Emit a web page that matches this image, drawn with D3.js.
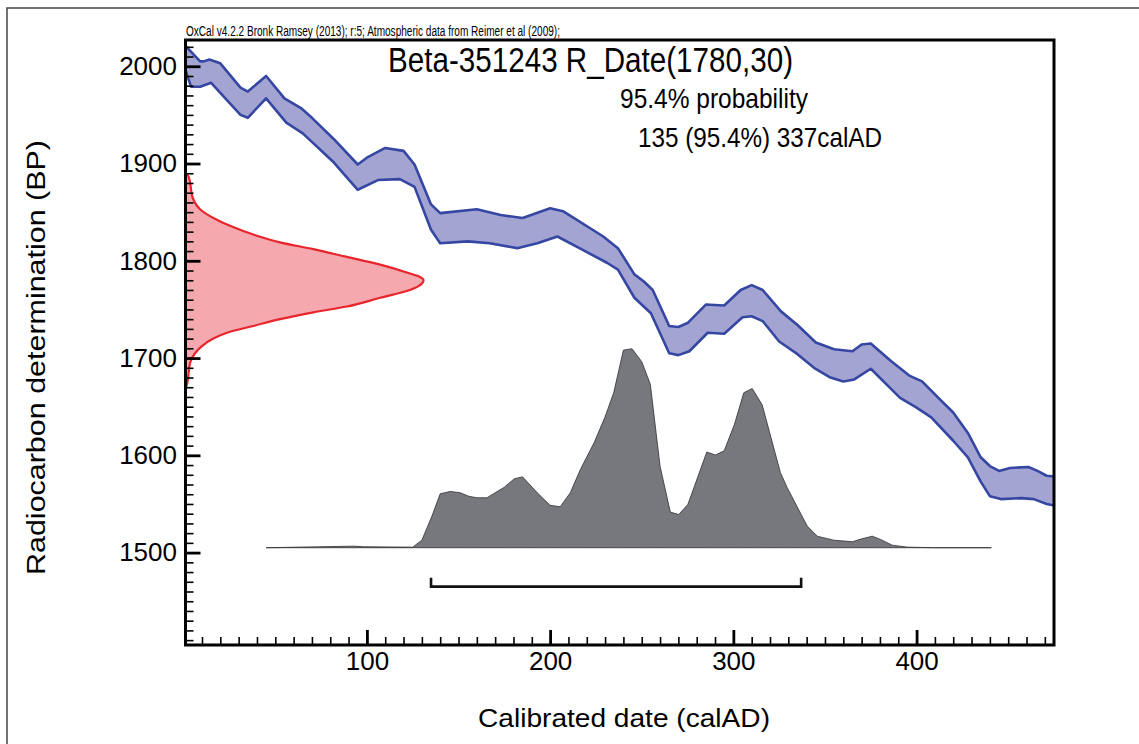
<!DOCTYPE html>
<html>
<head>
<meta charset="utf-8">
<script src="https://cdn.jsdelivr.net/npm/d3@7"></script>
<style>
  body { margin: 0; background: #fff; }
  svg { display: block; font-family: "Liberation Sans", Arial, sans-serif; }
</style>
</head>
<body>
<svg width="1139" height="744"></svg>
<script>

// calibration curve (IntCal band), upper and lower edges
const curveTopYear = [1, 9, 11, 14, 20, 31, 35, 45, 55, 64, 70, 82, 95, 100, 110, 120, 126, 135, 140, 160, 173, 185, 200, 207,
  229, 237, 246, 251, 256, 265, 270, 275, 285, 295, 304, 310, 316, 326, 335, 345, 355, 365, 370, 375, 386, 396, 403, 413,
  420, 428, 435, 440, 445, 451, 461, 466, 471, 476];
const curveTopBP = [2021, 2005, 2005, 2007, 2003, 1978, 1974, 1990, 1967, 1957, 1947, 1925, 1899, 1906, 1916, 1913, 1899, 1858, 1849, 1853, 1847, 1844, 1854, 1851,
  1825, 1813, 1786, 1779, 1770, 1733, 1732, 1736, 1755, 1754, 1770, 1775, 1770, 1748, 1734, 1716, 1709, 1707, 1714, 1715, 1697, 1682, 1676, 1657,
  1644, 1623, 1598, 1589, 1584, 1587, 1588, 1584, 1579, 1578];
const curveBottomYear = [1, 4, 9, 15, 31, 35, 45, 56, 65, 82, 95, 106, 118, 126, 135, 140, 155, 167, 182, 193, 204, 217, 231, 237,
  246, 255, 265, 270, 276, 286, 295, 305, 310, 316, 325, 335, 344, 353, 360, 366, 375, 391, 400, 408, 420, 428, 435, 440,
  446, 457, 464, 471, 476];
const curveBottomBP = [1996, 1979, 1979, 1983, 1950, 1947, 1967, 1942, 1931, 1901, 1873, 1883, 1884, 1876, 1832, 1818, 1820, 1818, 1813, 1818, 1825, 1812, 1798, 1791,
  1762, 1746, 1705, 1703, 1707, 1726, 1725, 1742, 1743, 1738, 1717, 1704, 1690, 1680, 1676, 1678, 1689, 1659, 1649, 1639, 1615, 1598, 1573, 1558,
  1555, 1556, 1555, 1550, 1548];

// radiocarbon measurement R_Date(1780,30), relative probability
const rDateBP = [1890, 1887, 1863, 1853, 1844, 1836, 1827, 1819, 1812, 1804, 1796, 1788, 1784, 1780,
  1774, 1769, 1762, 1753, 1747, 1740, 1733, 1727, 1720, 1712, 1705, 1695, 1675, 1668];
const rDateProb = [0, 0.012, 0.033, 0.061, 0.117, 0.187, 0.285, 0.397, 0.537, 0.678, 0.818, 0.930, 0.979, 1.0,
  0.979, 0.930, 0.818, 0.678, 0.537, 0.397, 0.285, 0.187, 0.117, 0.068, 0.040, 0.019, 0.008, 0];

// calibrated date distribution, relative probability
const calYear = [45, 93, 98, 125, 130, 135.5, 140, 145.5, 151, 155.5, 160, 165.5, 175, 180.5, 185, 193, 200, 205.5, 211, 216.5,
  224, 230, 234.7, 240, 244.7, 250, 254.7, 260, 265.6, 270.2, 275.2, 285.5, 290.2, 295, 300.6, 305.7, 310.3, 315.7, 325.7,
  329.4, 340.3, 345.8, 354.8, 365, 369.7, 375.8, 380.3, 386.7, 395, 409.4, 440.8];
const calProb = [0, 0.008, 0.005, 0.003, 0.038, 0.159, 0.271, 0.283, 0.276, 0.259, 0.251, 0.251, 0.304, 0.347, 0.356, 0.276, 0.213, 0.206, 0.276, 0.393,
  0.528, 0.658, 0.779, 0.993, 1.0, 0.935, 0.821, 0.410, 0.179, 0.167, 0.218, 0.481, 0.466, 0.487, 0.620, 0.779, 0.800, 0.719, 0.377,
  0.302, 0.109, 0.058, 0.038, 0.030, 0.044, 0.058, 0.042, 0.013, 0.003, 0, 0];

// 95.4% range
const rangeFrom = 135;
const rangeTo = 337;

const xMajorTicks = [100, 200, 300, 400];
const yMajorTicks = [1500, 1600, 1700, 1800, 1900, 2000];

const svg = d3.select('svg');

// outer border (top and left visible)
svg.append('path')
   .attr('d', 'M7,744 V8 H1139')
   .attr('fill', 'none')
   .attr('stroke', '#444')
   .attr('stroke-width', 1.5);

let xScale = d3.scaleLinear()
               .domain([1, 475])
               .range([185.5, 1054]);

let yScale = d3.scaleLinear()
               .domain([1405, 2027])
               .range([645, 40]);

let redScale = d3.scaleLinear()
                 .domain([0, 1])
                 .range([xScale(1), xScale(1) + 238]);

let grayScale = d3.scaleLinear()
                  .domain([0, 1])
                  .range([yScale(1505), yScale(1505) - 199]);

svg.append('clipPath')
   .attr('id', 'plotClip')
   .append('rect')
   .attr('x', 185.5)
   .attr('y', 40)
   .attr('width', 1054 - 185.5)
   .attr('height', 605);

let plot = svg.append('g').attr('clip-path', 'url(#plotClip)');

// calibration band
let bandPoints = curveTopYear.map((d, i) => [d, curveTopBP[i]])
  .concat(curveBottomYear.map((d, i) => [d, curveBottomBP[i]]).reverse());

let bandLine = d3.line()
                 .x(d => xScale(d[0]))
                 .y(d => yScale(d[1]));

plot.append('path')
    .attr('d', bandLine(bandPoints) + 'Z')
    .attr('fill', '#a3a4d2')
    .attr('stroke', '#3547a2')
    .attr('stroke-width', 2.6)
    .attr('stroke-linejoin', 'round');

// radiocarbon date on the y axis
let redArea = d3.area()
                .y(d => yScale(d[0]))
                .x0(redScale(0))
                .x1(d => redScale(d[1]))
                .curve(d3.curveMonotoneY);

plot.append('path')
    .attr('d', redArea(rDateBP.map((d, i) => [d, rDateProb[i]])))
    .attr('fill', '#f5a8ad')
    .attr('stroke', '#e8252c')
    .attr('stroke-width', 2.2);

// calibrated distribution
let grayArea = d3.area()
                 .x(d => xScale(d[0]))
                 .y0(grayScale(0))
                 .y1(d => grayScale(d[1]));

plot.append('path')
    .attr('d', grayArea(calYear.map((d, i) => [d, calProb[i]])))
    .attr('fill', '#77787d')
    .attr('stroke', '#2e2e30')
    .attr('stroke-width', 0.8)
    .attr('stroke-linejoin', 'round');

// range bar
let barY = yScale(1465);
svg.append('path')
   .attr('d', 'M' + xScale(rangeFrom) + ',' + (barY - 9) +
              'V' + barY + 'H' + xScale(rangeTo) + 'V' + (barY - 9))
   .attr('fill', 'none')
   .attr('stroke', '#111')
   .attr('stroke-width', 2.6);

// axes
let xMinor = d3.axisBottom(xScale)
               .tickValues(d3.range(10, 475, 10))
               .tickSize(-8)
               .tickFormat('');

let xMajor = d3.axisBottom(xScale)
               .tickValues(xMajorTicks)
               .tickSize(-15)
               .tickPadding(7)
               .tickFormat(d3.format('d'));

let yMinor = d3.axisLeft(yScale)
               .tickValues(d3.range(1410, 2030, 10))
               .tickSize(-8)
               .tickFormat('');

let yMajor = d3.axisLeft(yScale)
               .tickValues(yMajorTicks)
               .tickSize(-15)
               .tickPadding(8.5)
               .tickFormat(d3.format('d'));

function drawAxis(axis, transform, width) {
  let g = svg.append('g')
             .attr('transform', transform)
             .call(axis);
  g.select('.domain').remove();
  g.selectAll('line')
   .attr('stroke', '#000')
   .attr('stroke-width', width);
  g.selectAll('text')
   .attr('fill', '#000')
   .style('font-size', '26px')
   .style('font-family', '"Liberation Sans", Arial, sans-serif');
  return g;
}

drawAxis(xMinor, 'translate(0,645)', 1.6);
drawAxis(xMajor, 'translate(0,645)', 2.8);
drawAxis(yMinor, 'translate(185.5,0)', 1.6);
drawAxis(yMajor, 'translate(185.5,0)', 2.8);

svg.append('rect')
   .attr('x', 185.5)
   .attr('y', 40)
   .attr('width', 1054 - 185.5)
   .attr('height', 605)
   .attr('fill', 'none')
   .attr('stroke', '#000')
   .attr('stroke-width', 3);

// texts
svg.append('text')
   .attr('x', 186)
   .attr('y', 36)
   .attr('textLength', 374)
   .attr('lengthAdjust', 'spacingAndGlyphs')
   .style('font-size', '15.5px')
   .text('OxCal v4.2.2 Bronk Ramsey (2013); r:5; Atmospheric data from Reimer et al (2009);');

svg.append('text')
   .attr('x', 388)
   .attr('y', 72)
   .attr('textLength', 405)
   .attr('lengthAdjust', 'spacingAndGlyphs')
   .style('font-size', '35px')
   .text('Beta-351243 R_Date(1780,30)');

svg.append('text')
   .attr('x', 620)
   .attr('y', 108)
   .attr('textLength', 188)
   .attr('lengthAdjust', 'spacingAndGlyphs')
   .style('font-size', '28px')
   .text('95.4% probability');

svg.append('text')
   .attr('x', 638)
   .attr('y', 147)
   .attr('textLength', 244)
   .attr('lengthAdjust', 'spacingAndGlyphs')
   .style('font-size', '28px')
   .text('135 (95.4%) 337calAD');

svg.append('text')
   .attr('x', 478)
   .attr('y', 727)
   .attr('textLength', 292)
   .attr('lengthAdjust', 'spacingAndGlyphs')
   .style('font-size', '26px')
   .text('Calibrated date (calAD)');

svg.append('text')
   .attr('transform', 'translate(45,575) rotate(-90)')
   .attr('textLength', 435)
   .attr('lengthAdjust', 'spacingAndGlyphs')
   .style('font-size', '26px')
   .text('Radiocarbon determination (BP)');

</script>
</body>
</html>
